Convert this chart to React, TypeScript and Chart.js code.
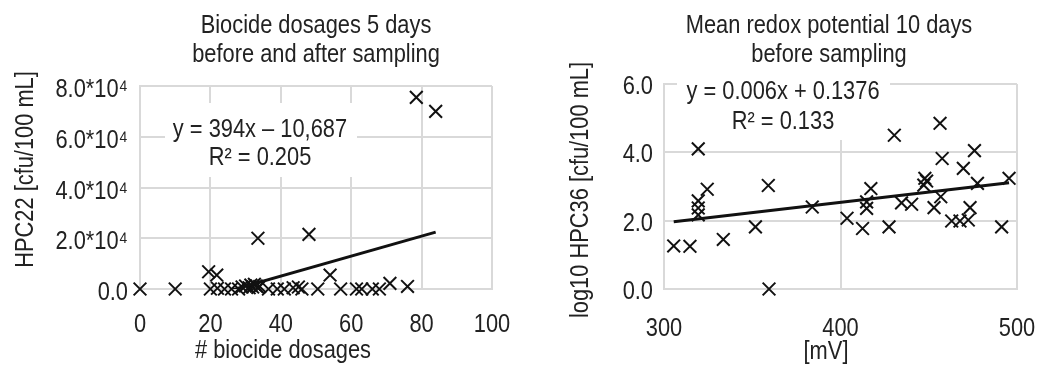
import React, { useEffect, useRef } from "react";
import { Chart, registerables } from "chart.js";

Chart.register(...registerables);

const FAMILY = "'Liberation Sans', Arial, sans-serif";
const TEXT_COLOR = "#222222";
const GRID_COLOR = "#d9d9d9";
const FONT_SIZE = 26;
const NARROW = 0.84; // horizontal squeeze to imitate a narrow sans face

// ---------- Left panel: biocide dosages vs HPC22 ----------
const dosageX = [0, 10, 19.5, 20, 21.8, 22, 24, 26, 28, 29, 30, 31, 31.5, 32, 32.5, 33, 33.5, 34, 36.5, 39, 41, 43.5, 45, 46, 50.5, 54, 57, 61.5, 63, 66, 68, 71, 76, 33.5, 48, 78.5, 84];
const hpc22Y = [0, 0, 6800, 0, 5500, 300, 0, 0, 0, 800, 1200, 500, 1500, 800, 1800, 1200, 600, 1000, 0, 0, 0, 500, 800, 0, 0, 5500, 0, 0, 0, 0, 0, 2200, 1000, 20000, 21500, 75500, 70000];
const dosageTicks = [0, 20, 40, 60, 80, 100];
const dosageTickLabels = ["0", "20", "40", "60", "80", "100"];
const hpc22Ticks = [0, 20000, 40000, 60000, 80000];
const hpc22TickLabels = ["0.0", "2.0*10⁴", "4.0*10⁴", "6.0*10⁴", "8.0*10⁴"];
const leftSlope = 394;
const leftIntercept = -10687;
const leftEquation = ["y = 394x – 10,687", "R² = 0.205"];
const leftTitle = ["Biocide dosages 5 days", "before and after sampling"];
const leftXTitle = "# biocide dosages";
const leftYTitle = "HPC22 [cfu/100 mL]";

// ---------- Right panel: redox potential vs log10 HPC36 ----------
const redoxX = [305.5, 314.7, 319.4, 319.4, 319.4, 319.4, 324.5, 333.6, 351.8, 359.1, 359.5, 384, 403.7, 412.5, 414.8, 414.8, 417.2, 427.5, 430.5, 434.6, 440.3, 447.2, 447.8, 448.8, 453, 456.4, 457.6, 456.8, 463, 467.7, 469.6, 472.4, 473.4, 475.9, 477.6, 491.3, 495.5];
const hpc36Y = [1.26, 1.25, 4.1, 2.58, 2.37, 2.17, 2.92, 1.45, 1.82, 3.03, 0.0, 2.4, 2.07, 1.77, 2.55, 2.36, 2.94, 1.82, 4.5, 2.52, 2.48, 3.04, 3.24, 3.16, 2.38, 4.85, 3.82, 2.7, 1.99, 1.99, 3.53, 2.02, 2.38, 4.05, 3.09, 1.82, 3.24];
const redoxTicks = [300, 400, 500];
const redoxTickLabels = ["300", "400", "500"];
const hpc36Ticks = [0, 2, 4, 6];
const hpc36TickLabels = ["0.0", "2.0", "4.0", "6.0"];
const rightSlope = 0.006;
const rightIntercept = 0.1376;
const rightEquation = ["y = 0.006x + 0.1376", "R² = 0.133"];
const rightTitle = ["Mean redox potential 10 days", "before sampling"];
const rightXTitle = "[mV]";
const rightYTitle = "log10 HPC36 [cfu/100 mL]";

type TextLayout = {
  title: string[];
  titleX: number;
  titleBaselines: number[];
  xTitle: string;
  xTitleX: number;
  xTitleBaseline: number;
  yTitle: string;
  yTitleBaseX: number;
  yTitleCenterY: number;
  eq: string[];
  eqX: number;
  eqBaselines: number[];
  eqBox: { x: number; y: number; w: number; h: number };
  xTickBaseline: number;
  yTickGap: number;
  yTickShift: number;
  xTicks: number[];
  xTickLabels: string[];
  yTicks: number[];
  yTickLabels: string[];
};

function drawText(ctx: CanvasRenderingContext2D, s: string, x: number, y: number, align: CanvasTextAlign, rotate = false) {
  ctx.save();
  ctx.font = `${FONT_SIZE}px ${FAMILY}`;
  ctx.fillStyle = TEXT_COLOR;
  ctx.textAlign = align;
  ctx.textBaseline = "alphabetic";
  ctx.translate(x, y);
  if (rotate) ctx.rotate(-Math.PI / 2);
  ctx.scale(NARROW, 1);
  ctx.fillText(s, 0, 0);
  ctx.restore();
}

function makeTextPlugin(t: TextLayout) {
  return {
    id: "panelText",
    beforeDatasetsDraw(chart: any) {
      const ctx = chart.ctx as CanvasRenderingContext2D;
      ctx.save();
      ctx.fillStyle = "#ffffff";
      ctx.fillRect(t.eqBox.x, t.eqBox.y, t.eqBox.w, t.eqBox.h);
      ctx.restore();
      t.eq.forEach((s, i) => drawText(ctx, s, t.eqX, t.eqBaselines[i], "center"));
    },
    afterDraw(chart: any) {
      const ctx = chart.ctx as CanvasRenderingContext2D;
      const xs = chart.scales.x;
      const ys = chart.scales.y;
      t.title.forEach((s, i) => drawText(ctx, s, t.titleX, t.titleBaselines[i], "center"));
      drawText(ctx, t.xTitle, t.xTitleX, t.xTitleBaseline, "center");
      drawText(ctx, t.yTitle, t.yTitleBaseX, t.yTitleCenterY, "center", true);
      t.xTicks.forEach((v, i) => drawText(ctx, t.xTickLabels[i], xs.getPixelForValue(v), t.xTickBaseline, "center"));
      t.yTicks.forEach((v, i) =>
        drawText(ctx, t.yTickLabels[i], chart.chartArea.left - t.yTickGap, ys.getPixelForValue(v) + t.yTickShift, "right")
      );
    },
  };
}

type PanelProps = {
  left: number;
  width: number;
  xs: number[];
  ys: number[];
  slope: number;
  intercept: number;
  xMin: number;
  xMax: number;
  yMin: number;
  yMax: number;
  padTop: number;
  padRight: number;
  yAxisWidth: number;
  xAxisHeight: number;
  text: TextLayout;
};

function Panel(p: PanelProps) {
  const ref = useRef<HTMLCanvasElement | null>(null);
  useEffect(() => {
    if (!ref.current) return;
    const points = p.xs.map((x, i) => ({ x, y: p.ys[i] }));
    const lo = Math.min(...p.xs);
    const hi = Math.max(...p.xs);
    const trend = [lo, hi].map((x) => ({ x, y: p.slope * x + p.intercept }));
    const chart = new Chart(ref.current, {
      type: "scatter",
      data: {
        datasets: [
          {
            type: "scatter",
            data: points,
            pointStyle: "crossRot",
            pointRadius: 9,
            pointHoverRadius: 9,
            borderColor: "#111111",
            backgroundColor: "#111111",
            borderWidth: 2,
            clip: false,
            order: 2,
          } as any,
          {
            type: "line",
            data: trend,
            borderColor: "#111111",
            borderWidth: 3,
            pointRadius: 0,
            fill: false,
            tension: 0,
            order: 1,
          } as any,
        ],
      },
      options: {
        responsive: false,
        animation: false,
        events: [],
        layout: { padding: { left: 0, top: p.padTop, right: p.padRight, bottom: 0 } },
        plugins: {
          legend: { display: false },
          tooltip: { enabled: false },
          title: { display: false },
        },
        scales: {
          x: {
            type: "linear",
            min: p.xMin,
            max: p.xMax,
            afterBuildTicks: (s: any) => {
              s.ticks = p.text.xTicks.map((v) => ({ value: v }));
            },
            ticks: { display: false },
            grid: { color: GRID_COLOR, lineWidth: 2, drawTicks: false },
            border: { color: GRID_COLOR, width: 2 },
            afterFit: (s: any) => {
              s.height = p.xAxisHeight;
            },
          },
          y: {
            type: "linear",
            min: p.yMin,
            max: p.yMax,
            afterBuildTicks: (s: any) => {
              s.ticks = p.text.yTicks.map((v) => ({ value: v }));
            },
            ticks: { display: false },
            grid: { color: GRID_COLOR, lineWidth: 2, drawTicks: false },
            border: { color: GRID_COLOR, width: 2 },
            afterFit: (s: any) => {
              s.width = p.yAxisWidth;
            },
          },
        },
      } as any,
      plugins: [makeTextPlugin(p.text)],
    });
    return () => chart.destroy();
  }, []);
  return (
    <canvas
      ref={ref}
      width={p.width}
      height={369}
      style={{ position: "absolute", left: p.left, top: 0, width: p.width, height: 369, display: "block" }}
    />
  );
}

export default function App() {
  return (
    <div style={{ position: "absolute", left: 0, top: 0, width: 1037, height: 369, overflow: "hidden", background: "#ffffff" }}>
      <Panel
        left={0}
        width={520}
        xs={dosageX}
        ys={hpc22Y}
        slope={leftSlope}
        intercept={leftIntercept}
        xMin={0}
        xMax={100}
        yMin={0}
        yMax={80000}
        padTop={86}
        padRight={28}
        yAxisWidth={140}
        xAxisHeight={80}
        text={{
          title: leftTitle,
          titleX: 316,
          titleBaselines: [32.5, 62],
          xTitle: leftXTitle,
          xTitleX: 283,
          xTitleBaseline: 358,
          yTitle: leftYTitle,
          yTitleBaseX: 33,
          yTitleCenterY: 169.5,
          eq: leftEquation,
          eqX: 260,
          eqBaselines: [136.5, 165],
          eqBox: { x: 165, y: 103, w: 192, h: 74 },
          xTickBaseline: 332,
          yTickGap: 12,
          yTickShift: 11,
          xTicks: dosageTicks,
          xTickLabels: dosageTickLabels,
          yTicks: hpc22Ticks,
          yTickLabels: hpc22TickLabels,
        }}
      />
      <Panel
        left={520}
        width={517}
        xs={redoxX}
        ys={hpc36Y}
        slope={rightSlope}
        intercept={rightIntercept}
        xMin={300}
        xMax={500}
        yMin={0}
        yMax={6}
        padTop={84}
        padRight={20}
        yAxisWidth={144}
        xAxisHeight={80}
        text={{
          title: rightTitle,
          titleX: 829 - 520,
          titleBaselines: [33, 62],
          xTitle: rightXTitle,
          xTitleX: 826 - 520,
          xTitleBaseline: 359,
          yTitle: rightYTitle,
          yTitleBaseX: 588 - 520,
          yTitleCenterY: 190,
          eq: rightEquation,
          eqX: 783 - 520,
          eqBaselines: [98.5, 128.5],
          eqBox: { x: 677 - 520, y: 74, w: 213, h: 66 },
          xTickBaseline: 336,
          yTickGap: 11,
          yTickShift: 10,
          xTicks: redoxTicks,
          xTickLabels: redoxTickLabels,
          yTicks: hpc36Ticks,
          yTickLabels: hpc36TickLabels,
        }}
      />
    </div>
  );
}
